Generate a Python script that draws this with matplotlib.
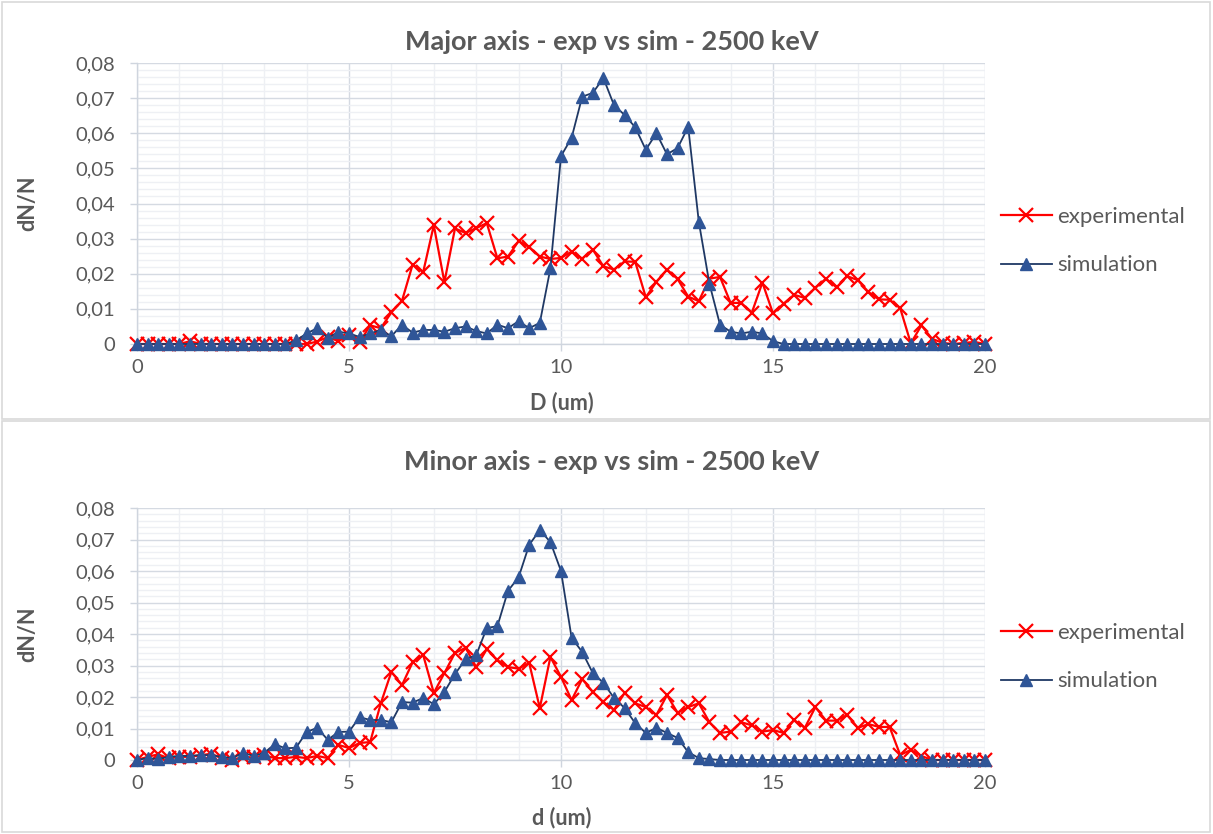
import matplotlib
matplotlib.use("Agg")
import matplotlib.pyplot as plt
import numpy as np
from matplotlib.patches import Rectangle
from matplotlib.ticker import FuncFormatter, MultipleLocator

plt.rcParams["font.family"] = ["Lato", "DejaVu Sans"]

# D / d grid (um), 0.25 steps
diameter = np.arange(0, 20.01, 0.25)

# major axis, one row per 1 um
major_exp = [
    0, 0, 0, 0,
    0, 0.0008, 0, 0,
    0, 0, 0, 0,
    0, 0, 0, 0,
    0, 0.0007, 0.002, 0.0008,
    0.0025, 0.0005, 0.0053, 0.0045,
    0.009, 0.0123, 0.0226, 0.0205,
    0.0338, 0.0176, 0.0329, 0.0316,
    0.033, 0.0344, 0.0244, 0.0249,
    0.0293, 0.0276, 0.0249, 0.0242,
    0.0245, 0.0263, 0.0243, 0.0269,
    0.0221, 0.0212, 0.0235, 0.0234,
    0.0133, 0.0177, 0.0212, 0.0185,
    0.0135, 0.0122, 0.0186, 0.0191,
    0.0117, 0.0117, 0.0089, 0.0175,
    0.0087, 0.0115, 0.014, 0.0131,
    0.016, 0.0186, 0.0161, 0.0193,
    0.0182, 0.0148, 0.0127, 0.0126,
    0.0102, 0.0002, 0.0053, 0.0015,
    0.0003, 0, 0.0003, 0.0006,
    0,
]
major_sim = [
    0, 0, 0, 0,
    0, 0, 0, 0,
    0, 0, 0, 0,
    0, 0, 0, 0.001,
    0.003, 0.0045, 0.0017, 0.0035,
    0.003, 0.002, 0.003, 0.004,
    0.0022, 0.0055, 0.0032, 0.004,
    0.004, 0.0035, 0.0045, 0.005,
    0.0037, 0.003, 0.0055, 0.0045,
    0.0065, 0.0045, 0.006, 0.0215,
    0.0535, 0.0587, 0.0704, 0.0715,
    0.0757, 0.068, 0.0652, 0.0617,
    0.0553, 0.060, 0.054, 0.0558,
    0.0618, 0.0348, 0.0172, 0.0055,
    0.0035, 0.003, 0.0035, 0.003,
    0.0008, 0, 0, 0,
    0, 0, 0, 0,
    0, 0, 0, 0,
    0, 0, 0, 0,
    0, 0, 0, 0,
    0,
]

# minor axis
minor_exp = [
    0, 0.001, 0.0018, 0.0005,
    0.001, 0.001, 0.0015, 0.002,
    0.0005, 0, 0.001, 0.0008,
    0.0015, 0.0006, 0.0006, 0.001,
    0.0006, 0.0013, 0.0006, 0.0048,
    0.0038, 0.0054, 0.0057, 0.018,
    0.028, 0.0238, 0.031, 0.0333,
    0.0213, 0.0276, 0.034, 0.0356,
    0.0295, 0.0352, 0.0317, 0.0295,
    0.029, 0.0308, 0.0165, 0.0327,
    0.0264, 0.019, 0.0257, 0.0216,
    0.0184, 0.0159, 0.0213, 0.018,
    0.0168, 0.0143, 0.0206, 0.015,
    0.0168, 0.018, 0.012, 0.0086,
    0.009, 0.012, 0.011, 0.009,
    0.0095, 0.0086, 0.0127, 0.0102,
    0.0168, 0.0125, 0.0125, 0.0143,
    0.0102, 0.0114, 0.0105, 0.0105,
    0.0016, 0.0032, 0.0013, 0,
    0, 0, 0, 0,
    0,
]
minor_sim = [
    0, 0.0006, 0.0003, 0.001,
    0.0013, 0.0013, 0.0016, 0.0015,
    0.001, 0.0006, 0.0023, 0.0013,
    0.0023, 0.005, 0.0037, 0.0039,
    0.0089, 0.0102, 0.0064, 0.0089,
    0.009, 0.0136, 0.0127, 0.0127,
    0.012, 0.0184, 0.0182, 0.0197,
    0.0177, 0.0216, 0.0273, 0.032,
    0.0333, 0.0419, 0.0425, 0.0537,
    0.058, 0.0683, 0.073, 0.0692,
    0.060, 0.0388, 0.0343, 0.0276,
    0.0245, 0.0197, 0.0165, 0.0117,
    0.0086, 0.0102, 0.0086, 0.007,
    0.0025, 0.0006, 0.0003, 0,
    0, 0, 0, 0,
    0, 0, 0, 0,
    0, 0, 0, 0,
    0, 0, 0, 0,
    0, 0, 0, 0,
    0, 0, 0, 0,
    0,
]

W, H = 1213, 834
TEXT = "#595959"
GRID_MAJOR = "#d5dae2"
GRID_MINOR = "#eef0f4"


def fx(px):
    return px / W


def fy(py):
    return 1 - py / H


def comma(v, _pos):
    if abs(v) < 1e-9:
        return "0"
    return f"{v:.2f}".replace(".", ",")


def draw_panel(fig, top, bottom, exp, sim, title, xlabel, title_y, xlabel_y, leg_y):
    ax = fig.add_axes([fx(137), fy(bottom), fx(985) - fx(137), fy(top) - fy(bottom)])
    ax.set_xlim(0, 20)
    ax.set_ylim(0, 0.08)
    ax.xaxis.set_major_locator(MultipleLocator(5))
    ax.xaxis.set_minor_locator(MultipleLocator(1))
    ax.yaxis.set_major_locator(MultipleLocator(0.01))
    ax.yaxis.set_minor_locator(MultipleLocator(0.002))
    ax.yaxis.set_major_formatter(FuncFormatter(comma))
    ax.grid(which="minor", color=GRID_MINOR, linewidth=1.0)
    ax.grid(which="major", color=GRID_MAJOR, linewidth=1.0)
    ax.set_axisbelow(True)
    for side in ("top", "right"):
        ax.spines[side].set_visible(False)
    for side in ("left", "bottom"):
        ax.spines[side].set_color("#cfd5de")
        ax.spines[side].set_linewidth(1.0)
    ax.tick_params(which="major", length=5, width=1.0, color="#cfd5de",
                   labelsize=14.5, labelcolor=TEXT)
    ax.tick_params(axis="y", which="major", pad=11)
    ax.tick_params(axis="x", which="major", pad=6)
    ax.tick_params(which="minor", length=0)

    ax.plot(diameter, exp, color="#ff0000", linewidth=1.6, marker="x",
            markersize=10, markeredgewidth=1.6, clip_on=False, zorder=3,
            label="experimental")
    ax.plot(diameter, sim, color="#1f3864", linewidth=1.3, marker="^",
            markersize=9, markerfacecolor="#2f5597", markeredgecolor="#2f5597",
            clip_on=False, zorder=4, label="simulation")

    fig.text(fx(612), fy(title_y), title, ha="center", va="center",
             fontsize=19.5, fontweight="bold", color=TEXT)
    fig.text(fx(562), fy(xlabel_y), xlabel, ha="center", va="center",
             fontsize=15.5, fontweight="bold", color=TEXT)
    fig.text(fx(28), fy((top + bottom) / 2), "dN/N", ha="center", va="center",
             rotation=90, fontsize=15.5, fontweight="bold", color=TEXT)

    leg = ax.legend(loc="center left", bbox_to_anchor=(fx(992), fy(leg_y)),
                    bbox_transform=fig.transFigure, frameon=False, fontsize=16,
                    handlelength=2.3, handletextpad=0.25, labelspacing=1.3,
                    borderaxespad=0)
    for t in leg.get_texts():
        t.set_color(TEXT)
    return ax


fig = plt.figure(figsize=(W / 100, H / 100), dpi=100)

fig.patches.append(Rectangle((fx(2), fy(419)), fx(1210) - fx(2), fy(2) - fy(419),
                             transform=fig.transFigure, fill=False,
                             edgecolor="#d9d9d9", linewidth=1.2))
fig.patches.append(Rectangle((fx(2), fy(832)), fx(1210) - fx(2), fy(421) - fy(832),
                             transform=fig.transFigure, fill=False,
                             edgecolor="#d9d9d9", linewidth=1.2))

draw_panel(fig, 63, 344, major_exp, major_sim,
           "Major axis - exp vs sim - 2500 keV", "D (um)", 42, 403, 241)
draw_panel(fig, 508, 760, minor_exp, minor_sim,
           "Minor axis - exp vs sim - 2500 keV", "d (um)", 462, 818, 657)

fig.savefig("out.png", dpi=100)
